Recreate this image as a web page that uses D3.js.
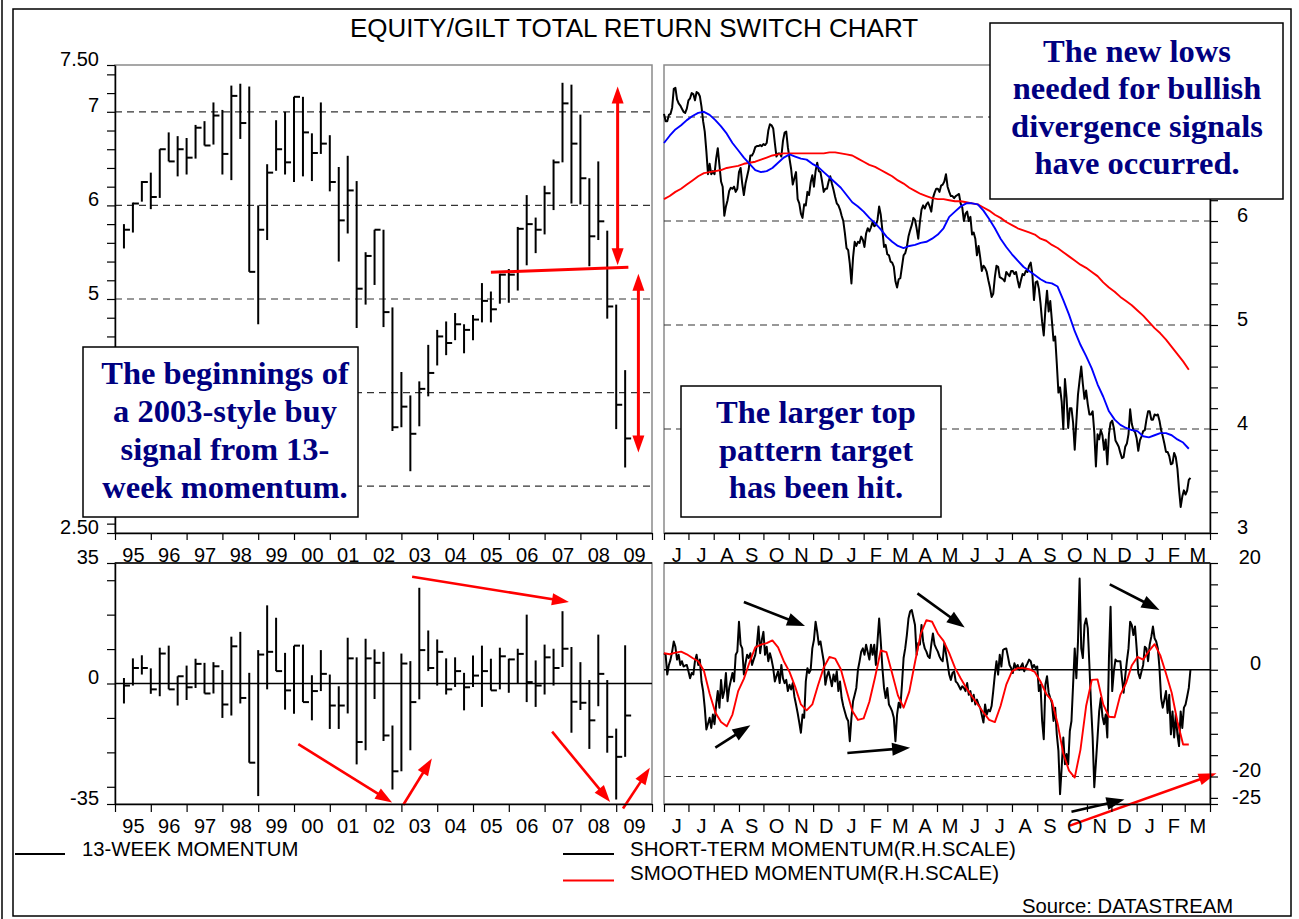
<!DOCTYPE html>
<html>
<head>
<meta charset="utf-8">
<title>Equity/Gilt total return switch chart</title>
<script src="https://cdnjs.cloudflare.com/ajax/libs/d3/7.8.5/d3.min.js"></script>
<style>
  body { margin: 0; background: #fff; }
  svg { display: block; }
</style>
</head>
<body>
<script>
var sansFont = "Arial, 'Liberation Sans', sans-serif";
var serifFont = "'Times New Roman', 'Liberation Serif', serif";
var noteColor = "#000080";
var red = "#ff0000";

// quarterly bars 1995 Q1 .. 2009 Q1, equity/gilt total return ratio
var ratioHigh = [5.80, 6.03, 6.26, 6.35, 6.60, 6.78, 6.74, 6.72, 6.86, 6.90, 7.10, 7.02, 7.28, 7.30, 7.27, 6.00, 6.44, 6.91, 7.00, 7.16,
  7.16, 6.77, 7.10, 6.75, 6.41, 6.53, 6.26, 5.50, 5.74, 5.74, 4.91, 4.22, 3.97, 4.12, 4.51, 4.67, 4.76, 4.85, 4.73, 4.83,
  5.17, 5.08, 5.27, 5.32, 5.77, 6.11, 5.87, 6.21, 6.49, 7.31, 7.29, 6.97, 6.29, 6.47, 5.73, 4.94, 4.24];
var ratioLow = [5.54, 5.71, 6.04, 5.96, 6.08, 6.47, 6.31, 6.33, 6.50, 6.64, 6.65, 6.33, 6.27, 6.71, 5.29, 4.73, 5.63, 6.37, 6.33, 6.25,
  6.31, 6.26, 6.55, 6.15, 5.40, 5.70, 4.69, 4.94, 5.15, 4.70, 3.59, 3.63, 3.16, 3.64, 3.96, 4.29, 4.40, 4.56, 4.42, 4.56,
  4.75, 4.75, 4.95, 4.96, 5.09, 5.36, 5.49, 5.69, 5.95, 6.46, 6.02, 6.01, 5.35, 5.63, 4.79, 3.61, 3.20];
var ratioClose = [5.74, 6.02, 6.25, 6.09, 6.60, 6.47, 6.60, 6.51, 6.83, 6.64, 6.96, 6.55, 7.17, 6.88, 5.29, 5.74, 6.35, 6.60, 6.46, 7.16,
  6.78, 6.56, 6.66, 6.25, 5.84, 6.16, 5.11, 5.46, 5.74, 4.86, 3.63, 3.85, 3.56, 4.04, 4.21, 4.60, 4.53, 4.73, 4.67, 4.78,
  4.98, 4.89, 5.26, 5.26, 5.75, 5.80, 5.74, 6.13, 6.46, 7.09, 6.66, 6.29, 5.67, 5.83, 4.92, 3.87, 3.51];

// 13-week momentum, same quarters
var momHigh = [1.6, 7.3, 8.2, 4.4, 10.4, 11.0, 2.1, 5.2, 7.2, 6.0, 6.2, 3.9, 13.6, 15.0, 3.1, 9.7, 22.7, 19.1, 8.9, 11.0,
  11.3, 2.4, 9.7, 2.6, -0.8, 13.3, 7.6, 13.0, 9.9, 9.2, -12.2, 8.7, 6.5, 27.8, 15.4, 12.8, 7.3, 7.6, 3.1, 8.1,
  11.0, 7.2, 10.4, 7.2, 10.1, 20.0, 6.7, 11.3, 10.1, 21.0, 10.6, 6.2, 1.0, 14.2, 1.0, -13.1, 11.1];
var momLow = [-5.8, -0.6, 2.6, -3.0, -3.7, -1.7, -6.4, -4.8, -1.3, -2.9, -2.9, -10.0, -9.3, -5.8, -23.0, -32.7, -1.7, 3.6, -7.6, -8.8,
  -5.4, -10.7, -2.2, -13.2, -13.2, -8.7, -23.5, -19.4, -4.5, -16.7, -30.8, -25.5, -19.4, -4.6, 3.6, -0.6, -3.2, -1.0, -7.8, -1.0,
  -6.8, -2.0, -1.7, -2.7, 0.0, -5.4, -6.8, -3.2, -0.6, 4.8, -14.3, -7.7, -19.0, -6.6, -20.1, -33.7, -21.3];
var momClose = [-0.6, 4.5, 4.5, -1.7, 8.7, -1.7, 2.1, -1.1, 5.7, -2.9, 5.0, -6.1, 10.8, -4.2, -23.0, 8.4, 9.2, 3.6, -2.0, 11.0,
  -5.4, -2.2, 2.8, -6.4, -6.4, 7.3, -17.0, 7.3, 6.0, -15.1, -25.5, 5.8, -5.4, 9.7, 4.5, 9.2, -1.7, 3.6, -1.1, 2.3,
  3.6, -2.0, 7.9, 7.0, 8.6, 0.4, -0.6, 7.6, 4.5, 10.1, -5.3, -5.6, -10.7, 2.8, -15.5, -21.3, -9.3];

var yearLabels = ["95", "96", "97", "98", "99", "00", "01", "02", "03", "04", "05", "06", "07", "08", "09"];
var monthLabels = ["J", "J", "A", "S", "O", "N", "D", "J", "F", "M", "A", "M", "J", "J", "A", "S", "O", "N", "D", "J", "F", "M"];

// ratio, every second day from 1 Jun 2007
var ratioDaily = [7.03, 6.96, 6.96, 7.02, 7.03, 7.09, 7.27, 7.28, 7.17, 7.13,
  7.11, 7.08, 7.05, 7.04, 7.08, 7.16, 7.18, 7.23, 7.22, 7.16,
  7.24, 7.23, 7.20, 7.10, 6.96, 6.86, 6.67, 6.45, 6.55, 6.45,
  6.48, 6.45, 6.60, 6.70, 6.54, 6.38, 6.33, 6.05, 6.14, 6.20,
  6.29, 6.32, 6.31, 6.33, 6.28, 6.31, 6.47, 6.51, 6.36, 6.25,
  6.36, 6.43, 6.50, 6.63, 6.63, 6.66, 6.71, 6.72, 6.72, 6.73,
  6.72, 6.74, 6.73, 6.75, 6.87, 6.93, 6.92, 6.89, 6.75, 6.62,
  6.65, 6.65, 6.62, 6.77, 6.85, 6.86, 6.71, 6.60, 6.50, 6.35,
  6.41, 6.47, 6.21, 6.17, 6.07, 6.03, 6.16, 6.15, 6.28, 6.25,
  6.37, 6.44, 6.33, 6.48, 6.56, 6.48, 6.47, 6.38, 6.28, 6.31,
  6.31, 6.38, 6.43, 6.36, 6.30, 6.23, 6.17, 6.15, 6.11, 6.05,
  6.00, 5.88, 5.74, 5.72, 5.59, 5.40, 5.65, 5.80, 5.76, 5.80,
  5.79, 5.85, 5.82, 5.75, 5.88, 5.93, 5.90, 5.94, 5.99, 5.95,
  5.96, 6.01, 6.14, 6.06, 5.91, 5.75, 5.77, 5.68, 5.67, 5.61,
  5.60, 5.56, 5.42, 5.36, 5.44, 5.45, 5.56, 5.67, 5.69, 5.75,
  5.85, 5.91, 5.96, 6.03, 6.01, 5.93, 5.83, 5.99, 6.11, 6.15,
  6.12, 6.16, 6.18, 6.14, 6.09, 6.22, 6.27, 6.31, 6.31,
  6.28, 6.34, 6.35, 6.38, 6.45, 6.33, 6.28, 6.24, 6.24, 6.22,
  6.24, 6.25, 6.26, 6.17, 6.13, 6.00, 6.07, 6.09, 6.00, 6.04,
  5.87, 5.89, 5.83, 5.67, 5.76, 5.65, 5.52, 5.57, 5.55, 5.51,
  5.43, 5.36, 5.27, 5.30, 5.46, 5.57, 5.56, 5.46, 5.45, 5.44,
  5.42, 5.51, 5.49, 5.47, 5.52, 5.52, 5.49, 5.51, 5.43, 5.36,
  5.43, 5.49, 5.48, 5.52, 5.51, 5.57, 5.60, 5.49, 5.24, 5.41,
  5.42, 5.35, 5.21, 5.03, 4.90, 5.15, 5.33, 5.13, 5.23, 5.04,
  4.85, 4.89, 4.63, 4.35, 4.40, 4.26, 4.00, 4.48, 4.30, 4.01,
  4.20, 4.20, 4.06, 3.80, 4.07, 4.33, 4.47, 4.60, 4.43, 4.29,
  4.37, 4.24, 4.14, 4.14, 4.17, 3.97, 3.64, 3.95, 3.90, 3.99,
  3.94, 3.80, 3.90, 3.66, 3.95, 4.06, 4.08, 4.01, 3.89, 3.86,
  3.83, 3.77, 3.72, 3.73, 3.83, 3.86, 3.95, 4.19, 4.05, 3.99,
  3.97, 3.91, 3.79, 3.89, 3.93, 3.98, 3.99, 4.09, 4.17, 4.17,
  4.09, 4.09, 4.14, 4.13, 4.14, 4.08, 3.99, 3.93, 3.86, 3.78,
  3.78, 3.74, 3.66, 3.67, 3.77, 3.73, 3.62, 3.42, 3.25, 3.35,
  3.41, 3.37, 3.41, 3.51, 3.53];

// weekly moving averages from 1 Jun 2007
var ratioShortAvg = [6.75, 6.82, 6.88, 6.92, 6.97, 7.01, 7.04, 7.05, 7.02, 6.97,
  6.91, 6.84, 6.75, 6.68, 6.61, 6.55, 6.49, 6.47, 6.48, 6.51,
  6.56, 6.61, 6.64, 6.62, 6.60, 6.59, 6.55, 6.52, 6.47, 6.42,
  6.37, 6.32, 6.25, 6.18, 6.14, 6.09, 6.03, 5.98, 5.92, 5.85,
  5.80, 5.76, 5.74, 5.76, 5.77, 5.79, 5.80, 5.83, 5.87,
  5.93, 6.04, 6.09, 6.14, 6.17, 6.17, 6.16, 6.10, 6.02, 5.93,
  5.83, 5.75, 5.68, 5.62, 5.56, 5.52, 5.48, 5.44, 5.41, 5.40,
  5.37, 5.24, 5.10, 4.94, 4.81, 4.70, 4.58, 4.43, 4.31, 4.17,
  4.09, 4.04, 4.01, 3.99, 3.98, 3.93, 3.92, 3.94, 3.96, 3.96,
  3.94, 3.90, 3.87, 3.81];
var ratioLongAvg = [6.21, 6.24, 6.28, 6.31, 6.35, 6.39, 6.43, 6.46, 6.47, 6.48,
  6.49, 6.51, 6.52, 6.53, 6.55, 6.56, 6.57, 6.59, 6.61, 6.63,
  6.64, 6.65, 6.65, 6.65, 6.65, 6.65, 6.65, 6.65, 6.65, 6.66,
  6.66, 6.65, 6.64, 6.63, 6.60, 6.57, 6.54, 6.52, 6.49, 6.46,
  6.43, 6.39, 6.36, 6.32, 6.29, 6.26, 6.24, 6.22, 6.21,
  6.21, 6.20, 6.19, 6.19, 6.18, 6.17, 6.16, 6.13, 6.10, 6.06,
  6.03, 5.99, 5.96, 5.93, 5.91, 5.89, 5.87, 5.83, 5.81, 5.77,
  5.74, 5.70, 5.66, 5.62, 5.58, 5.55, 5.51, 5.47, 5.41, 5.36,
  5.32, 5.27, 5.23, 5.19, 5.14, 5.09, 5.03, 4.97, 4.92, 4.86,
  4.79, 4.72, 4.65, 4.57];

// short-term momentum, every second day from 1 Jun 2007
var shortMom = [3.1, 2.8, -0.9, 0.9, 1.9, 3.4, 5.3, 4.3, 1.9, 2.8, 0.9, 1.6, 0.6, 0.8,
  0.9, -0.3, -1.6, -0.6, -0.9, 1.6, 2.8, 0.9, 1.9, -2.2, -4.0, -7.1, -11.2, -10.1,
  -9.0, -10.9, -8.4, -10.2, -6.5, -4.0, -7.1, -1.9, -5.3, -4.0, -0.6, -5.9, -3.4, -2.0,
  -0.6, -2.2, 2.8, 3.4, 9.0, 4.7, 4.0, -0.9, 1.2, 2.8, 2.2, 3.1, 0.9, 1.9,
  2.8, 4.7, 8.1, 3.1, 5.6, 7.1, 2.8, 4.3, 1.6, 3.1, 1.9, 0.3, -2.2, -1.2,
  -0.3, -2.5, 0.9, -1.6, -2.5, -1.9, -4.0, -2.8, -3.7, -2.5, -5.0, -6.5, -8.1, -9.9,
  -11.8, -8.4, -9.0, -2.2, 0.3, -0.6, 0.0, 4.0, 5.6, 9.0, 7.1, 4.7, 5.3, 3.4,
  1.6, -2.8, -1.2, -0.3, -1.6, -3.1, -0.9, -2.2, -0.3, -4.0, -2.2, -5.3, -6.8, -7.9,
  -9.0, -9.6, -13.4, -9.0, -5.9, -4.7, -3.4, 0.0, 1.6, 3.4, 4.0, 2.8, 4.7, 3.3,
  1.9, 4.7, 2.8, 4.7, 0.9, 5.3, 9.6, 5.3, 0.3, -3.4, -5.3, -3.4, -6.5, -7.1,
  -7.8, -9.0, -13.4, -8.4, -6.2, -7.1, -2.8, 2.2, 4.0, 6.5, 9.6, 10.9, 11.2, 9.8,
  8.4, 2.8, 5.0, 4.7, 8.4, 5.3, 4.0, 3.4, 2.5, 2.2, 4.7, 6.8, 4.7, 4.0,
  3.4, 2.5, 1.9, 1.6, 5.0, 3.1, 1.2, -0.9, -1.9, -0.6, -0.3, -2.2, -2.5, -3.1,
  -3.7, -3.1, -3.4, -4.0, -2.5, -4.7, -4.0, -5.9, -4.7, -6.5, -5.6, -6.5, -7.1, -8.5,
  -9.9, -6.5, -8.4, -7.5, -7.8, -6.8, -4.0, -0.9, 1.6, -0.9, 2.8, 0.6, 3.7, 3.9,
  4.0, 2.5, 0.9, 0.3, -0.6, 1.2, 0.3, 0.9, 0.0, 0.6, 1.2, -0.3, 0.6, 1.2,
  1.9, 1.6, 0.3, 0.9, 0.3, 0.6, -4.0, -2.8, -9.6, -13.0, -2.8, -1.2, -4.3, -5.3,
  -6.2, -9.6, -7.1, -12.1, -15.2, -23.3, -18.3, -12.7, -17.7, -15.8, -17.7, -11.5, -9.6, -2.8,
  4.0, -1.6, 5.3, 17.1, 4.0, 2.2, 8.4, 9.6, 7.8, 0.9, -6.5, -12.7, -22.0, -17.4,
  -12.7, -7.8, -5.3, -8.7, -10.2, -8.4, -12.7, 2.2, 11.8, -4.0, -0.3, 1.9, 1.6, 1.6,
  1.6, -1.6, -4.3, -1.2, 1.6, 4.0, 9.0, 8.4, 6.5, 8.1, 4.0, -0.6, -1.6, -0.3,
  0.9, 4.3, 4.0, 1.6, 4.7, 6.2, 8.1, 5.9, 5.3, 4.0, 0.3, -5.3, -7.1, -5.6,
  -4.0, -8.1, -4.7, -12.1, -7.8, -12.7, -8.4, -12.1, -14.3, -7.8, -10.9, -7.1, -6.5, -5.0,
  -3.4, 0.0];

// smoothed momentum, weekly from 1 Jun 2007
var smoothMom = [3.1, 2.9, 3.2, 3.4, 2.9, 2.2, 1.6, -0.2, -4.5, -8.0,
  -9.8, -10.6, -8.4, -4.0, -1.7, 1.4, 4.2, 4.7, 5.0, 5.5,
  4.2, 1.6, -0.4, -3.2, -6.5, -7.6, -6.5, -2.9, 0.4, 2.4,
  2.1, 0.1, -3.9, -7.7, -9.4, -9.1, -6.0, -1.4, 3.6, 3.3,
  -0.7, -4.8, -7.1, -4.1, 1.4, 6.7, 9.3, 9.0, 6.8, 5.4,
  3.1, 0.4, -1.6, -3.4, -5.0, -6.5, -8.0, -9.4, -9.8, -6.8,
  -2.8, -0.3, 0.3, 0.3, 0.1, -0.4, -2.2, -4.5, -5.8, -10.1,
  -15.7, -18.9, -20.2, -15.0, -6.8, -1.9, -1.8, -6.5, -8.8, -8.9,
  -4.7, -2.5, 0.8, 2.4, 1.9, 3.5, 4.8, 2.7, -0.7, -4.3,
  -9.7, -14.0, -14.0];

// annotations on the long panels, [year, value]
var trendLine = [[2005.5, 5.285], [2009.34, 5.34]];
var targetArrows = [[[2009.04, 7.27], [2009.04, 5.36]], [[2009.62, 5.27], [2009.62, 3.36]]];
var momArrows = [
  [[2000.12, -17.6], [2002.74, -34.6]],
  [[2003.05, -35.3], [2003.85, -21.8]],
  [[2003.30, 31.0], [2007.68, 23.7]],
  [[2007.21, -14.0], [2008.83, -34.4]],
  [[2009.19, -36.3], [2009.94, -24.5]]
];
// annotations on the short momentum panel, [date, value]
var shortBlackArrows = [
  [["2007-09-07", 12.7], ["2007-11-21", 8.2]],
  [["2007-08-03", -14.6], ["2007-09-15", -10.4]],
  [["2008-01-12", -15.6], ["2008-03-29", -14.6]],
  [["2008-04-07", 14.3], ["2008-06-04", 7.9]],
  [["2008-11-29", 16.0], ["2009-01-29", 11.2]],
  [["2008-10-13", -26.6], ["2008-12-17", -24.3]]
];
var shortRedArrows = [[["2008-10-11", -29.2], ["2009-04-09", -19.4]]];

var noteNewLows = ["The new lows", "needed for bullish", "divergence signals", "have occurred."];
var noteBuySignal = ["The beginnings of", "a 2003-style buy", "signal from 13-", "week momentum."];
var noteTarget = ["The larger top", "pattern target", "has been hit."];

var startDay = new Date(2007, 5, 1);
var parseDay = d3.timeParse("%Y-%m-%d");

var svg = d3.select("body").append("svg").attr("width", 1299).attr("height", 919);

var xYear = d3.scaleLinear().domain([1995, 2010]).range([115, 652]);
var xDay = d3.scaleTime().domain([startDay, new Date(2009, 3, 1)]).range([664, 1210]);
var yRatioL = d3.scaleLinear().domain([2.5, 7.5]).range([533, 65]);
var yRatioR = d3.scaleLinear().domain([3, 7.5]).range([533, 65]);
var yMomL = d3.scaleLinear().domain([-35, 35]).range([804, 563]);
var yMomR = d3.scaleLinear().domain([-25.15, 20]).range([804, 563]);

function byDays(values, step) {
  return values.map(function (v, i) {
    return { date: d3.timeDay.offset(startDay, i * step), v: v };
  });
}

function quarterBars(high, low, close) {
  return high.map(function (h, i) {
    return { t: 1995 + 0.25 * (i + 1), high: h, low: low[i], close: close[i] };
  });
}

// panel frames
function frame(x, y) {
  var xr = x.range(), yr = y.range();
  svg.append("rect")
    .attr("x", xr[0]).attr("y", yr[1])
    .attr("width", xr[1] - xr[0]).attr("height", yr[0] - yr[1])
    .attr("fill", "none").attr("stroke", "#8a8a8a").attr("stroke-width", 1.5);
}
frame(xYear, yRatioL);
frame(xDay, yRatioR);
frame(xYear, yMomL);
frame(xDay, yMomR);
[xYear, xDay].forEach(function (x) {
  svg.append("line")
    .attr("x1", x.range()[0]).attr("x2", x.range()[1])
    .attr("y1", yMomL.range()[1]).attr("y2", yMomL.range()[1])
    .attr("stroke", "#000").attr("stroke-width", 1.5);
});

function gridLine(x, y, v, dashed) {
  svg.append("line")
    .attr("x1", x.range()[0]).attr("x2", x.range()[1])
    .attr("y1", y(v)).attr("y2", y(v))
    .attr("stroke", dashed ? "#333" : "#000")
    .attr("stroke-width", dashed ? 1.2 : 1.6)
    .attr("stroke-dasharray", dashed ? "7,5" : null);
}
[7, 6, 5, 4, 3].forEach(function (v) { gridLine(xYear, yRatioL, v, true); });
[7, 6, 5, 4].forEach(function (v) { gridLine(xDay, yRatioR, v, true); });
gridLine(xYear, yMomL, 0, false);
gridLine(xDay, yMomR, 0, false);
gridLine(xDay, yMomR, -20, true);

// high-low-close bars
function drawBars(data, y) {
  var g = svg.append("g").attr("stroke", "#000").attr("stroke-width", 2);
  g.selectAll("line.range")
    .data(data)
    .enter().append("line").attr("class", "range")
    .attr("x1", function (d) { return xYear(d.t); })
    .attr("x2", function (d) { return xYear(d.t); })
    .attr("y1", function (d) { return y(d.low); })
    .attr("y2", function (d) { return y(d.high); });
  g.selectAll("line.close")
    .data(data)
    .enter().append("line").attr("class", "close")
    .attr("x1", function (d) { return xYear(d.t); })
    .attr("x2", function (d) { return xYear(d.t) + 6; })
    .attr("y1", function (d) { return y(d.close); })
    .attr("y2", function (d) { return y(d.close); });
}
drawBars(quarterBars(ratioHigh, ratioLow, ratioClose), yRatioL);
drawBars(quarterBars(momHigh, momLow, momClose), yMomL);

function drawLine(data, y, color, width) {
  var line = d3.line()
    .x(function (d) { return xDay(d.date); })
    .y(function (d) { return y(d.v); });
  svg.append("path")
    .datum(data)
    .attr("d", line)
    .attr("fill", "none")
    .attr("stroke", color)
    .attr("stroke-width", width)
    .attr("stroke-linejoin", "round");
}
drawLine(byDays(ratioDaily, 2), yRatioR, "#000", 2);
drawLine(byDays(ratioLongAvg, 7), yRatioR, red, 1.9);
drawLine(byDays(ratioShortAvg, 7), yRatioR, "#0000ff", 1.9);
drawLine(byDays(shortMom, 2), yMomR, "#000", 2);
drawLine(byDays(smoothMom, 7), yMomR, red, 1.9);

// arrows
function arrowHead(tip, from, len, wid, color) {
  var a = Math.atan2(tip[1] - from[1], tip[0] - from[0]);
  var bx = tip[0] - len * Math.cos(a), by = tip[1] - len * Math.sin(a);
  var px = -Math.sin(a) * wid / 2, py = Math.cos(a) * wid / 2;
  svg.append("path")
    .attr("d", "M" + tip[0] + "," + tip[1] + "L" + (bx + px) + "," + (by + py) + "L" + (bx - px) + "," + (by - py) + "Z")
    .attr("fill", color);
  return [tip[0] - len * 0.6 * Math.cos(a), tip[1] - len * 0.6 * Math.sin(a)];
}
function arrow(p1, p2, color, width, len, wid, both) {
  var s = p1;
  var e = arrowHead(p2, p1, len, wid, color);
  if (both) s = arrowHead(p1, p2, len, wid, color);
  svg.append("line")
    .attr("x1", s[0]).attr("y1", s[1]).attr("x2", e[0]).attr("y2", e[1])
    .attr("stroke", color).attr("stroke-width", width);
}

svg.append("line")
  .attr("x1", xYear(trendLine[0][0])).attr("y1", yRatioL(trendLine[0][1]))
  .attr("x2", xYear(trendLine[1][0])).attr("y2", yRatioL(trendLine[1][1]))
  .attr("stroke", red).attr("stroke-width", 3);
targetArrows.forEach(function (a) {
  arrow([xYear(a[0][0]), yRatioL(a[0][1])], [xYear(a[1][0]), yRatioL(a[1][1])], red, 3, 17, 12, true);
});
momArrows.forEach(function (a) {
  arrow([xYear(a[0][0]), yMomL(a[0][1])], [xYear(a[1][0]), yMomL(a[1][1])], red, 2.6, 17, 12, false);
});
shortBlackArrows.forEach(function (a) {
  arrow([xDay(parseDay(a[0][0])), yMomR(a[0][1])], [xDay(parseDay(a[1][0])), yMomR(a[1][1])], "#000", 2.6, 18, 13, false);
});
shortRedArrows.forEach(function (a) {
  arrow([xDay(parseDay(a[0][0])), yMomR(a[0][1])], [xDay(parseDay(a[1][0])), yMomR(a[1][1])], red, 2.6, 18, 12, false);
});

// axes
function styleAxis(g) {
  g.attr("font-family", sansFont).attr("font-size", 20);
  g.select(".domain").attr("stroke", "#000").attr("stroke-width", 1.5);
  g.selectAll(".tick line").attr("stroke", "#000").attr("stroke-width", 1.2);
  g.selectAll(".tick text").attr("fill", "#000");
}
function ticksOnly(axis, tx, ty) {
  svg.append("g").attr("transform", "translate(" + tx + "," + ty + ")")
    .call(axis.tickSizeOuter(0).tickFormat(""))
    .call(styleAxis);
}
function labelsOnly(axis, tx, ty, fix) {
  var g = svg.append("g").attr("transform", "translate(" + tx + "," + ty + ")")
    .call(axis.tickSize(0).tickSizeOuter(0))
    .call(styleAxis);
  g.select(".domain").remove();
  fix(g.selectAll(".tick text"));
}

var ratioMinorL = d3.range(26, 75, 2).map(function (d) { return d / 10; }).concat([2.5, 7.5]);
var ratioMinorR = d3.range(30, 75, 2).map(function (d) { return d / 10; }).concat([7.5]);
var momMinorL = [-35, -30, -20, -10, 0, 10, 20, 30, 35];
var momMinorR = d3.range(-24, 20, 4).concat([20, -25.15]);
var fmtRatio = function (d) { return d % 1 ? d.toFixed(2) : String(d); };
var fmtPlain = function (d) { return String(d); };

// labels that sit under the comment boxes in the original are left out
ticksOnly(d3.axisLeft(yRatioL).tickValues(ratioMinorL).tickSize(8), 115, 0);
labelsOnly(d3.axisLeft(yRatioL).tickValues([2.5, 5, 6, 7, 7.5]).tickPadding(16).tickFormat(fmtRatio), 115, 0,
  function (t) { t.attr("dy", null); });
ticksOnly(d3.axisRight(yRatioR).tickValues(ratioMinorR).tickSize(8), 1210, 0);
labelsOnly(d3.axisRight(yRatioR).tickValues([3, 4, 5, 6]).tickFormat(fmtRatio), 1210, 0,
  function (t) { t.attr("dy", null).attr("x", 38).attr("text-anchor", "end"); });
ticksOnly(d3.axisLeft(yMomL).tickValues(momMinorL).tickSize(8), 115, 0);
labelsOnly(d3.axisLeft(yMomL).tickValues([-35, 0, 35]).tickPadding(16).tickFormat(fmtPlain), 115, 0,
  function (t) { t.attr("dy", null); });
ticksOnly(d3.axisRight(yMomR).tickValues(momMinorR).tickSize(8), 1210, 0);
labelsOnly(d3.axisRight(yMomR).tickValues([20, 0, -20, -25]).tickFormat(fmtPlain), 1210, 0,
  function (t) { t.attr("dy", null).attr("x", 51).attr("text-anchor", "end"); });

var yearTicks = d3.range(1995, 2011);
var yearMids = yearLabels.map(function (d, i) { return 1995.5 + i; });
var months = d3.timeMonth.range(startDay, new Date(2009, 3, 1));
var monthMids = months.map(function (d) {
  return new Date((+d + +d3.timeMonth.offset(d, 1)) / 2);
});

[533, 804].forEach(function (yb) {
  ticksOnly(d3.axisBottom(xYear).tickValues(yearTicks).tickSize(yb === 533 ? 7 : 8), 0, yb);
  labelsOnly(d3.axisBottom(xYear).tickValues(yearMids).tickFormat(function (d, i) { return yearLabels[i]; }), 0, yb,
    function (t) { t.attr("dy", null).attr("y", 28.5); });
  ticksOnly(d3.axisBottom(xDay).ticks(d3.timeMonth.every(1)).tickSize(yb === 533 ? 7 : 8), 0, yb);
  labelsOnly(d3.axisBottom(xDay).tickValues(monthMids).tickFormat(function (d, i) { return monthLabels[i]; }), 0, yb,
    function (t) { t.attr("dy", null).attr("y", 28.5); });
});

// comment boxes
function note(lines, bx, by, bw, bh, cx, firstBase, lineGap) {
  svg.append("rect")
    .attr("x", bx).attr("y", by).attr("width", bw).attr("height", bh)
    .attr("fill", "#fff").attr("stroke", "#000").attr("stroke-width", 1.5);
  svg.append("g").selectAll("text")
    .data(lines)
    .enter().append("text")
    .attr("x", cx)
    .attr("y", function (d, i) { return firstBase + i * lineGap; })
    .attr("text-anchor", "middle")
    .attr("font-family", serifFont)
    .attr("font-weight", "bold")
    .attr("font-size", 32.5)
    .attr("fill", noteColor)
    .text(function (d) { return d; });
}
note(noteNewLows, 990, 23, 293, 176, 1137, 61.7, 37.4);
note(noteBuySignal, 83, 347, 275, 170, 225, 384, 38);
note(noteTarget, 681, 386, 260, 131, 816, 423.3, 37.5);

// outer frame, title, legend
svg.append("rect")
  .attr("x", 13).attr("y", 9).attr("width", 1278).attr("height", 907)
  .attr("fill", "none").attr("stroke", "#000").attr("stroke-width", 1.5);
svg.append("line")
  .attr("x1", 2).attr("x2", 2).attr("y1", 0).attr("y2", 919)
  .attr("stroke", "#000").attr("stroke-width", 1.5);

function label(txt, x, y, size, anchor) {
  svg.append("text")
    .attr("x", x).attr("y", y)
    .attr("font-family", sansFont)
    .attr("font-size", size)
    .attr("text-anchor", anchor || "start")
    .attr("fill", "#000")
    .text(txt);
}
label("EQUITY/GILT TOTAL RETURN SWITCH CHART", 634, 36.5, 26, "middle");

function legendLine(x1, x2, y, color) {
  svg.append("line")
    .attr("x1", x1).attr("x2", x2).attr("y1", y).attr("y2", y)
    .attr("stroke", color).attr("stroke-width", 2);
}
legendLine(15, 65, 854, "#000");
label("13-WEEK MOMENTUM", 82, 856, 20.3);
legendLine(563, 614, 854, "#000");
label("SHORT-TERM MOMENTUM(R.H.SCALE)", 630, 856, 20.5);
legendLine(563, 614, 880.5, red);
label("SMOOTHED MOMENTUM(R.H.SCALE)", 630, 880, 20.5);
label("Source: DATASTREAM", 1022, 913, 20.3);
</script>
</body>
</html>
